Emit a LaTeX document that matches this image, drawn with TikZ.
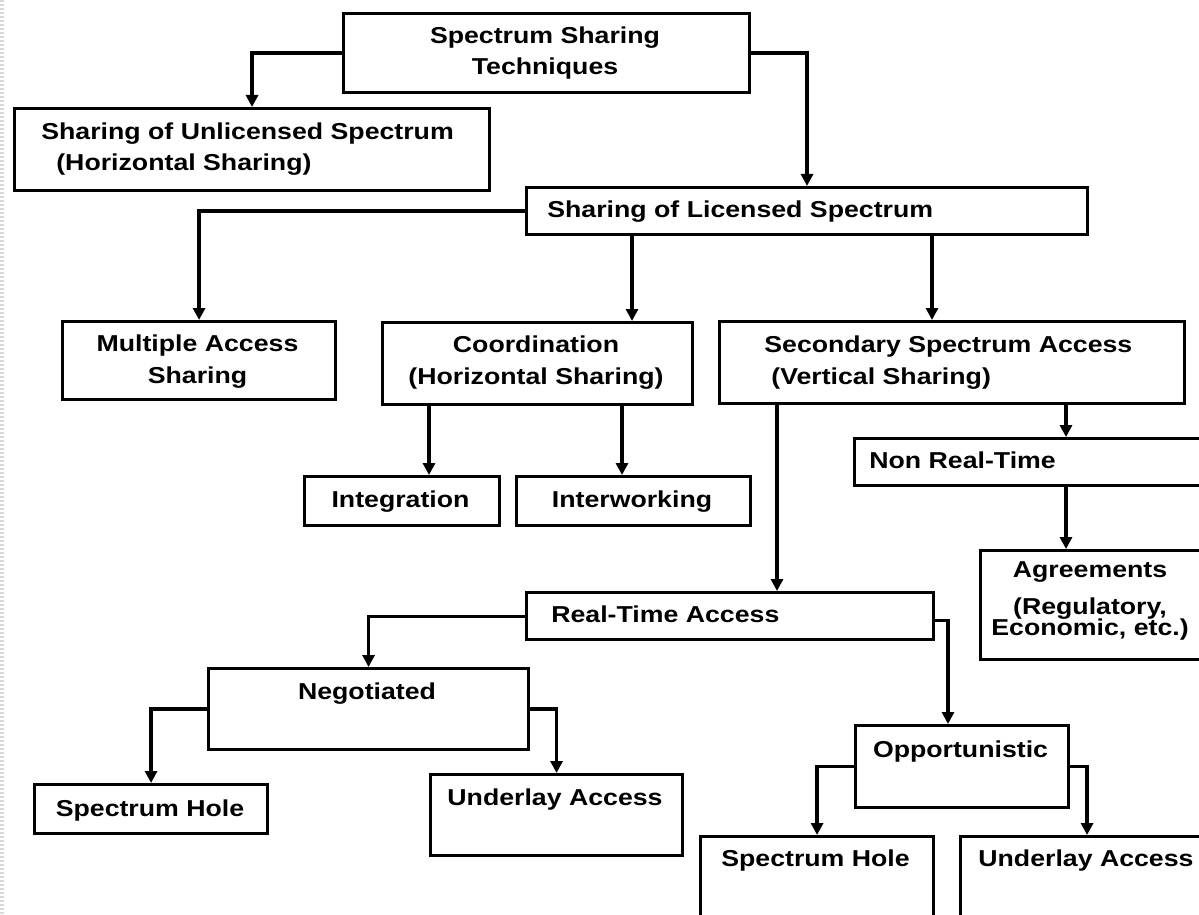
\documentclass[tikz,border=0pt]{standalone}
\usepackage{fontspec}
\setmainfont{Liberation Sans}[FakeStretch=1.16]
\usetikzlibrary{arrows.meta}

\begin{document}
\begin{tikzpicture}
[
x=0.02cm, y=-0.02cm,
every node/.style={inner sep=0pt, font=\fontsize{13.1pt}{18.1pt}\selectfont\bfseries},
box/.style={draw, line width=1.8pt, anchor=north west},
lbl/.style={anchor=base, align=center},
lblw/.style={anchor=base west, align=left},
arr/.style={line width=1.8pt, -{Triangle[length=0.24cm, width=0.24cm]}}
]
\clip (0,0) rectangle (1199,915);
\draw[gray!30, line width=2pt, dash pattern=on 0.04cm off 0.04cm] (2,0) -- (2,915);

% boxes
\node[box, minimum width=8.12cm, minimum height=1.58cm] (tech) at (342,12) {};
\node[box, minimum width=9.5cm, minimum height=1.64cm] (unlic) at (13,107) {};
\node[box, minimum width=11.22cm, minimum height=0.94cm] (lic) at (525,186) {};
\node[box, minimum width=5.46cm, minimum height=1.56cm] (multi) at (61,320) {};
\node[box, minimum width=6.2cm, minimum height=1.64cm] (coord) at (381,321) {};
\node[box, minimum width=9.3cm, minimum height=1.64cm] (sec) at (718,320) {};
\node[box, minimum width=7.14cm, minimum height=0.94cm] (nrt) at (853,437) {};
\node[box, minimum width=3.9cm, minimum height=0.98cm] (integ) at (303,475) {};
\node[box, minimum width=4.68cm, minimum height=0.98cm] (interw) at (515,475) {};
\node[box, minimum width=4.52cm, minimum height=2.18cm] (agr) at (979,549) {};
\node[box, minimum width=8.14cm, minimum height=0.94cm] (rt) at (525,591) {};
\node[box, minimum width=6.4cm, minimum height=1.62cm] (neg) at (207,667) {};
\node[box, minimum width=4.66cm, minimum height=0.98cm] (shl) at (33,783) {};
\node[box, minimum width=5.04cm, minimum height=1.62cm] (ual) at (429,773) {};
\node[box, minimum width=4.26cm, minimum height=1.64cm] (opp) at (854,724) {};
\node[box, minimum width=4.66cm, minimum height=1.9cm] (shr) at (699,835) {};
\node[box, minimum width=5.06cm, minimum height=1.9cm] (uar) at (959,835) {};

% texts (base = last line)
\node[lbl] (t-tech) at (545,75) {Spectrum Sharing\\Techniques};
\node[lblw] (t-unlic) at (41,171) {Sharing of Unlicensed Spectrum\\\hspace*{0.3cm}(Horizontal Sharing)};
\node[lblw] (t-lic) at (547,218) {Sharing of Licensed Spectrum};
\node[lbl] (t-multi) at (197.5,383) {Multiple Access\\Sharing};
\node[lbl] (t-coord) at (536,384) {Coordination\\(Horizontal Sharing)};
\node[lblw] (t-sec) at (764,384) {Secondary Spectrum Access\\\hspace*{0.14cm}(Vertical Sharing)};
\node[lblw] (t-nrt) at (869,468) {Non Real-Time};
\node[lbl] (t-integ) at (400.5,507) {Integration};
\node[lbl] (t-interw) at (632,507) {Interworking};
\node[lbl] (t-agr) at (1090,635) {Agreements\\[0.1cm](Regulatory,\\[-0.22cm]Economic, etc.)};
\node[lblw] (t-rt) at (551,622) {Real-Time Access};
\node[lbl] (t-neg) at (367,699) {Negotiated};
\node[lbl] (t-shl) at (150,816) {Spectrum Hole};
\node[lbl] (t-ual) at (555,805) {Underlay Access};
\node[lbl] (t-opp) at (960.5,757) {Opportunistic};
\node[lbl] (t-shr) at (815.5,866) {Spectrum Hole};
\node[lblw] (t-uar) at (978,866) {Underlay Access};

% drop points
\coordinate (b-coord) at (632,0);
\coordinate (b-sec) at (932,0);
\coordinate (b-integ) at (429,0);
\coordinate (b-interw) at (622,0);
\coordinate (b-nrt) at (1066,0);
\coordinate (b-rt) at (777,0);
\coordinate (b-opp) at (948,0);

% connectors
\draw[arr] (tech.west) -| (unlic.north);
\draw[arr] (tech.east) -| (lic.north);
\draw[arr] (lic.west) -| (multi.north);
\draw[arr] (lic.south -| b-coord) -- (coord.north -| b-coord);
\draw[arr] (lic.south -| b-sec) -- (sec.north -| b-sec);
\draw[arr] (coord.south -| b-integ) -- (integ.north -| b-integ);
\draw[arr] (coord.south -| b-interw) -- (interw.north -| b-interw);
\draw[arr] (sec.south -| b-nrt) -- (nrt.north -| b-nrt);
\draw[arr] (nrt.south -| b-nrt) -- (agr.north -| b-nrt);
\draw[arr] (sec.south -| b-rt) -- (rt.north -| b-rt);
\draw[arr] (rt.west) -| (neg.north);
\draw[arr] ([yshift=-0.09cm]rt.east) -| (opp.north -| b-opp);
\draw[arr] (neg.west) -| (shl.north);
\draw[arr] (neg.east) -| (ual.north);
\draw[arr] (opp.west) -| (shr.north);
\draw[arr] (opp.east) -| (uar.north);
\end{tikzpicture}
\end{document}
